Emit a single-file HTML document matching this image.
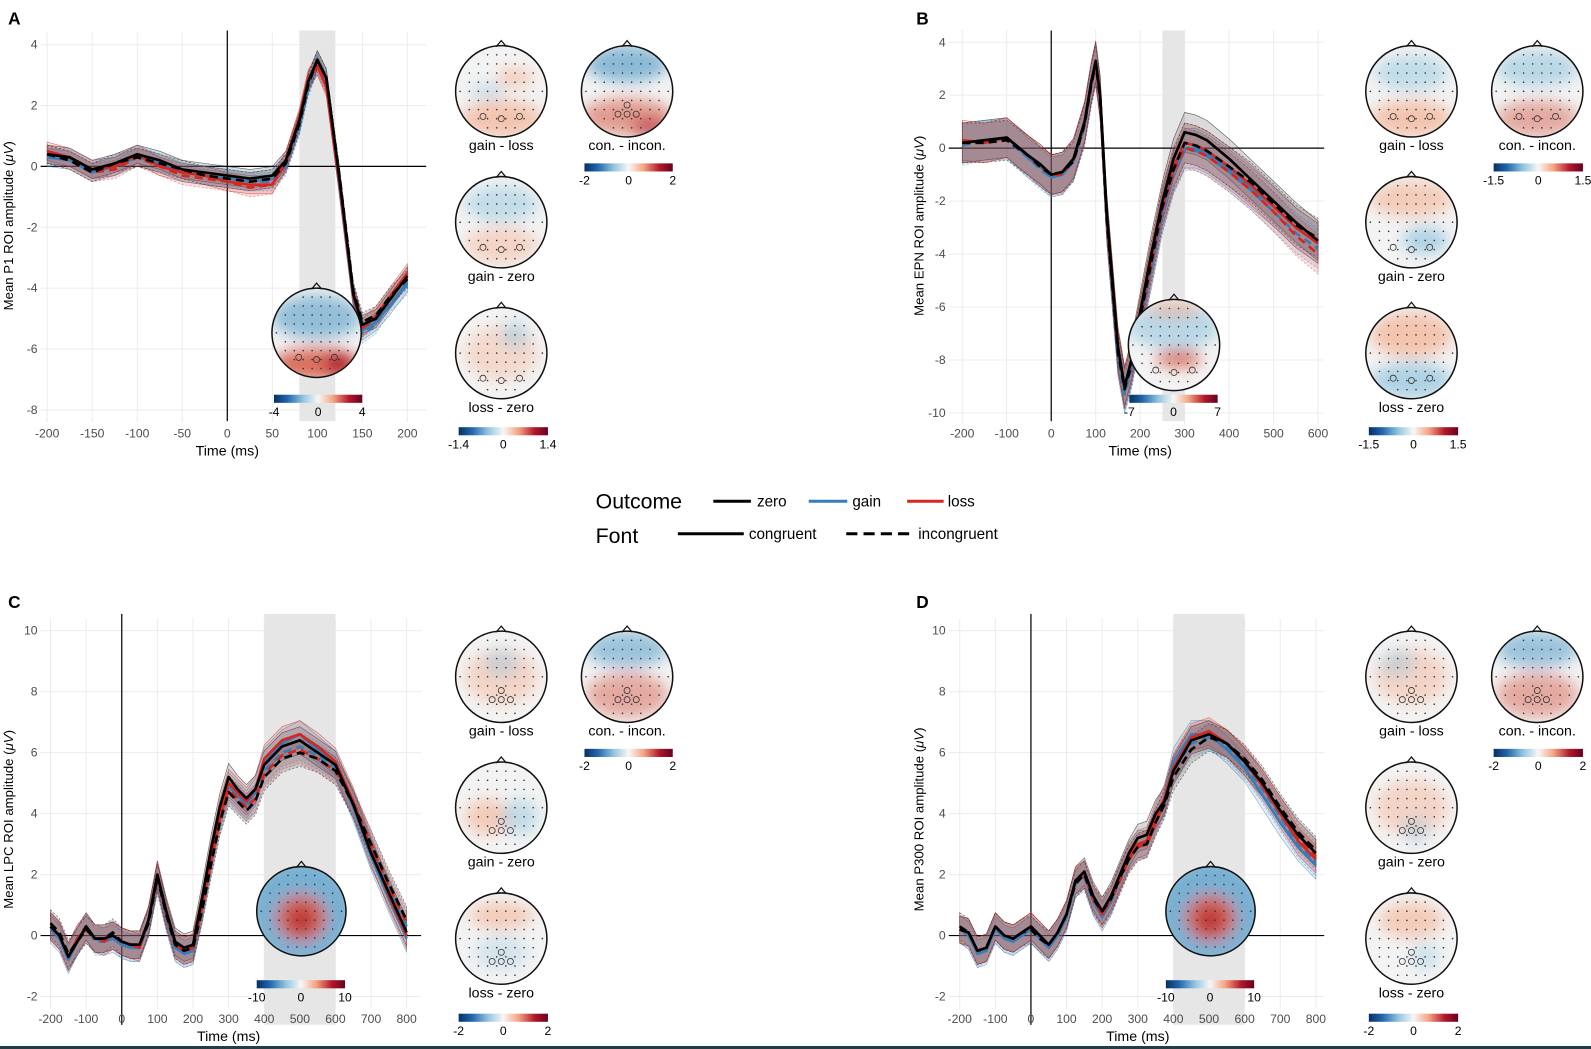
<!DOCTYPE html>
<html><head><meta charset="utf-8">
<style>
html,body{margin:0;padding:0;background:#fff;}
svg{display:block;font-family:"Liberation Sans",sans-serif;}
</style></head>
<body>
<svg id="fig" width="1591" height="1049" viewBox="0 0 1591 1049" xmlns="http://www.w3.org/2000/svg">
<defs>
<linearGradient id="cb" x1="0" x2="1" y1="0" y2="0">
<stop offset="0" stop-color="#053061"/><stop offset="0.15" stop-color="#2166ac"/><stop offset="0.33" stop-color="#92c5de"/><stop offset="0.5" stop-color="#f7f7f7"/><stop offset="0.67" stop-color="#f4a582"/><stop offset="0.85" stop-color="#b2182b"/><stop offset="1" stop-color="#67001f"/>
</linearGradient>
<filter id="blur" x="-50%" y="-50%" width="200%" height="200%"><feGaussianBlur stdDeviation="7"/></filter>
</defs>
<rect x="0" y="1046" width="1591" height="3" fill="#243d43"/>
<g id="root" transform="scale(1.0147)">
<g id="legend">
<text x="587" y="501" font-size="21" fill="#000">Outcome</text>
<line x1="703" y1="494" x2="740" y2="494" stroke="#000" stroke-width="3"/>
<text x="746" y="499" font-size="15">zero</text>
<line x1="797" y1="494" x2="835" y2="494" stroke="#377eb8" stroke-width="3"/>
<text x="840" y="499" font-size="15">gain</text>
<line x1="894" y1="494" x2="930" y2="494" stroke="#d7261e" stroke-width="3"/>
<text x="934" y="499" font-size="15">loss</text>
<text x="587" y="535" font-size="21">Font</text>
<line x1="668" y1="526" x2="733" y2="526" stroke="#000" stroke-width="3"/>
<text x="738" y="531" font-size="15">congruent</text>
<line x1="834" y1="526" x2="900" y2="526" stroke="#000" stroke-width="3" stroke-dasharray="11,6"/>
<text x="905" y="531" font-size="15">incongruent</text>
</g>
</g>
</svg>
<script>
// ---------- Panel A data (P1) ----------
const timesA=[-200,-175,-150,-125,-100,-75,-50,-25,0,25,50,65,80,90,100,110,125,140,150,165,180,200];
const zeroConA=[0.4,0.3,-0.1,0.1,0.4,0.2,-0.1,-0.2,-0.3,-0.4,-0.3,0.2,1.5,2.8,3.5,2.9,-0.5,-4.2,-5.2,-5.0,-4.4,-3.6];
const gainConA=[0.3,0.2,-0.2,0.0,0.3,0.1,-0.2,-0.3,-0.4,-0.5,-0.4,0.1,1.4,2.7,3.4,2.7,-0.8,-4.4,-5.4,-5.1,-4.6,-3.8];
const lossConA=[0.5,0.3,-0.1,0.0,0.4,0.0,-0.2,-0.3,-0.5,-0.6,-0.6,0.2,1.6,2.9,3.3,2.6,-0.7,-4.3,-5.3,-4.9,-4.3,-3.5];
const zeroIncA=[0.4,0.2,-0.2,0.1,0.3,0.1,-0.1,-0.3,-0.4,-0.5,-0.4,0.1,1.4,2.7,3.5,2.9,-0.4,-4.1,-5.1,-4.9,-4.3,-3.7];
const gainIncA=[0.3,0.3,-0.1,0.0,0.4,0.1,-0.2,-0.3,-0.4,-0.5,-0.5,0.0,1.3,2.6,3.4,2.8,-0.6,-4.3,-5.5,-5.2,-4.5,-3.9];
const lossIncA=[0.4,0.2,-0.2,-0.1,0.3,0.0,-0.3,-0.4,-0.5,-0.7,-0.6,0.1,1.5,2.8,3.3,2.7,-0.6,-4.2,-5.3,-5.0,-4.4,-3.6];
const xTicksA=[-200,-150,-100,-50,0,50,100,150,200];
const yTicksA=[4,2,0,-2,-4,-6,-8];
// ---------- Panel B data (EPN) ----------
const timesB=[-200,-150,-100,-50,-25,0,25,50,75,90,100,110,125,150,165,180,200,225,250,275,300,325,350,400,450,500,550,600];
const zeroConB=[0.2,0.3,0.4,-0.3,-0.6,-1.0,-0.9,-0.4,1.0,2.5,3.3,2.0,-2.5,-7.5,-9.0,-8.0,-6.2,-4.0,-2.0,-0.4,0.6,0.5,0.3,-0.4,-1.2,-2.0,-2.8,-3.5];
const gainConB=[0.2,0.3,0.4,-0.4,-0.7,-1.1,-1.0,-0.5,0.9,2.4,3.2,1.8,-2.8,-7.8,-9.2,-8.3,-6.6,-4.5,-2.4,-0.9,0.0,0.0,-0.2,-0.8,-1.5,-2.2,-3.0,-3.6];
const lossConB=[0.3,0.2,0.4,-0.3,-0.6,-1.0,-0.9,-0.4,1.0,2.5,3.2,1.9,-2.6,-7.6,-9.0,-8.1,-6.4,-4.2,-2.2,-0.7,0.2,0.1,-0.1,-0.7,-1.4,-2.2,-3.0,-3.6];
const zeroIncB=[0.2,0.2,0.3,-0.3,-0.7,-1.0,-0.9,-0.5,0.9,2.4,3.2,1.9,-2.7,-7.7,-9.1,-8.2,-6.4,-4.3,-2.2,-0.8,0.2,0.1,-0.1,-0.7,-1.3,-2.1,-2.9,-3.4];
const gainIncB=[0.1,0.3,0.3,-0.4,-0.8,-1.1,-1.0,-0.5,0.8,2.3,3.1,1.8,-2.9,-7.9,-9.3,-8.4,-6.7,-4.6,-2.5,-1.0,-0.1,-0.1,-0.3,-0.9,-1.6,-2.4,-3.2,-3.8];
const lossIncB=[0.2,0.2,0.4,-0.3,-0.7,-1.0,-1.0,-0.4,0.9,2.4,3.1,1.8,-2.8,-7.7,-9.1,-8.2,-6.5,-4.4,-2.3,-0.9,0.0,-0.1,-0.3,-0.9,-1.6,-2.4,-3.3,-4.0];
const xTicksB=[-200,-100,0,100,200,300,400,500,600];
const yTicksB=[4,2,0,-2,-4,-6,-8,-10];
// ---------- Panel C data (LPC) ----------
const timesC=[-200,-175,-150,-125,-100,-75,-50,-25,0,25,50,75,100,125,150,175,200,225,250,275,300,325,350,375,400,450,500,550,600,650,700,750,800];
const zeroConC=[0.3,0.0,-0.7,-0.2,0.3,-0.1,-0.1,0.0,-0.2,-0.3,-0.3,0.5,2.0,0.8,-0.2,-0.4,-0.3,1.2,2.8,4.2,5.2,4.8,4.5,4.8,5.6,6.2,6.4,6.0,5.6,4.3,2.7,1.4,0.1];
const gainConC=[0.2,-0.1,-0.8,-0.2,0.3,-0.1,-0.2,-0.1,-0.3,-0.4,-0.4,0.4,1.9,0.6,-0.4,-0.6,-0.5,0.9,2.5,3.9,4.9,4.6,4.3,4.7,5.7,6.3,6.6,6.1,5.6,4.2,2.6,1.2,-0.1];
const lossConC=[0.3,0.0,-0.7,-0.1,0.2,-0.1,-0.1,0.0,-0.2,-0.3,-0.4,0.5,2.0,0.7,-0.3,-0.5,-0.4,1.0,2.6,4.0,5.0,4.7,4.4,4.8,5.8,6.4,6.6,6.2,5.7,4.4,2.8,1.3,0.0];
const zeroIncC=[0.4,0.1,-0.6,-0.2,0.2,-0.1,-0.1,0.1,-0.2,-0.3,-0.3,0.4,1.9,0.7,-0.3,-0.5,-0.4,0.8,2.3,3.7,4.7,4.4,4.1,4.4,5.2,5.8,6.0,5.8,5.4,4.3,3.0,1.7,0.5];
const gainIncC=[0.3,0.0,-0.7,-0.2,0.3,-0.2,-0.2,0.0,-0.3,-0.4,-0.4,0.4,1.8,0.6,-0.4,-0.6,-0.5,0.8,2.3,3.7,4.7,4.5,4.2,4.5,5.4,6.0,6.2,5.9,5.5,4.3,2.9,1.5,0.3];
const lossIncC=[0.3,0.0,-0.7,-0.1,0.3,-0.1,-0.2,0.0,-0.2,-0.3,-0.3,0.5,1.9,0.7,-0.3,-0.5,-0.4,0.9,2.4,3.8,4.8,4.5,4.2,4.5,5.3,5.9,6.1,5.8,5.4,4.4,3.0,1.6,0.4];
const xTicksC=[-200,-100,0,100,200,300,400,500,600,700,800];
const yTicksC=[10,8,6,4,2,0,-2];
// ---------- Panel D data (P300) ----------
const timesD=[-200,-175,-150,-125,-100,-75,-50,-25,0,25,50,75,100,125,150,175,200,225,250,275,300,325,350,375,400,450,500,550,600,650,700,750,800];
const zeroConD=[0.2,0.1,-0.5,-0.4,0.3,0.0,-0.1,0.1,0.3,0.0,-0.3,0.1,0.7,1.8,2.1,1.3,0.8,1.3,2.0,2.7,3.2,3.3,4.0,4.4,5.4,6.4,6.6,6.3,5.7,5.0,4.1,3.3,2.7];
const gainConD=[0.2,0.0,-0.6,-0.5,0.2,-0.1,-0.2,0.0,0.2,-0.1,-0.4,0.0,0.6,1.7,2.0,1.1,0.6,1.1,1.9,2.6,3.0,3.0,3.8,4.5,5.7,6.6,6.6,6.1,5.5,4.6,3.7,2.9,2.3];
const lossConD=[0.2,0.1,-0.5,-0.4,0.3,0.0,-0.1,0.1,0.3,0.0,-0.3,0.1,0.7,1.8,2.0,1.2,0.7,1.2,1.9,2.6,3.0,3.1,3.9,4.5,5.5,6.5,6.7,6.3,5.7,4.9,4.0,3.1,2.5];
const zeroIncD=[0.3,0.1,-0.5,-0.4,0.3,0.0,-0.1,0.1,0.2,-0.1,-0.3,0.1,0.7,1.7,2.0,1.2,0.8,1.2,1.9,2.5,2.9,3.0,3.7,4.3,5.2,6.1,6.5,6.3,5.8,5.1,4.2,3.4,2.8];
const gainIncD=[0.2,0.0,-0.6,-0.4,0.2,-0.1,-0.2,0.0,0.2,-0.1,-0.4,0.0,0.6,1.7,1.9,1.1,0.7,1.1,1.8,2.5,2.9,3.0,3.7,4.3,5.4,6.3,6.5,6.2,5.6,4.8,3.9,3.0,2.4];
const lossIncD=[0.2,0.1,-0.5,-0.4,0.3,0.0,-0.1,0.1,0.3,0.0,-0.3,0.1,0.7,1.8,2.0,1.2,0.7,1.2,1.8,2.5,2.9,3.0,3.7,4.4,5.5,6.4,6.6,6.3,5.8,5.0,4.1,3.2,2.6];
const xTicksD=[-200,-100,0,100,200,300,400,500,600,700,800];
const yTicksD=[10,8,6,4,2,0,-2];

const NS="http://www.w3.org/2000/svg";
const fig=document.getElementById('root');
function mk(tag,attrs,parent){const e=document.createElementNS(NS,tag);for(const k in attrs)e.setAttribute(k,attrs[k]);(parent||fig).appendChild(e);return e;}

const panels=[
 {id:'a',letter:'A',lx:8,ly:24,times:timesA,series:[zeroConA,gainConA,lossConA,zeroIncA,gainIncA,lossIncA],xt:xTicksA,yt:yTicksA,
  x0:224,xk:0.8875,y0:164,yk:30,left:40,right:420,top:30,bottom:415,win:[80,120],se:0.3,title:'Mean P1 ROI amplitude (',ytx:8,tlab:449},
 {id:'b',letter:'B',lx:903,ly:24,times:timesB,series:[zeroConB,gainConB,lossConB,zeroIncB,gainIncB,lossIncB],xt:xTicksB,yt:yTicksB,
  x0:1036,xk:0.4383,y0:146,yk:26.1,left:935,right:1305,top:30,bottom:415,win:[250,300],se:0.75,title:'Mean EPN ROI amplitude (',ytx:905,tlab:449},
 {id:'c',letter:'C',lx:8,ly:599,times:timesC,series:[zeroConC,gainConC,lossConC,zeroIncC,gainIncC,lossIncC],xt:xTicksC,yt:yTicksC,
  x0:120,xk:0.351,y0:922,yk:30.05,left:40,right:415,top:605,bottom:1010,win:[400,600],se:0.45,title:'Mean LPC ROI amplitude (',ytx:8,tlab:1026},
 {id:'d',letter:'D',lx:903,ly:599,times:timesD,series:[zeroConD,gainConD,lossConD,zeroIncD,gainIncD,lossIncD],xt:xTicksD,yt:yTicksD,
  x0:1016,xk:0.351,y0:922,yk:30.05,left:935,right:1305,top:605,bottom:1010,win:[400,600],se:0.45,title:'Mean P300 ROI amplitude (',ytx:905,tlab:1026}
];
const cols=['#000000','#377eb8','#d7261e','#000000','#377eb8','#d7261e'];
const names=['zero-congruent','gain-congruent','loss-congruent','zero-incongruent','gain-incongruent','loss-incongruent'];

panels.forEach(p=>{
 const g=mk('g',{});
 
 
 const xs=t=>p.x0+t*p.xk, ys=v=>p.y0-v*p.yk;
 const yMin=ys(p.yt[p.yt.length-1])+12, yMax=ys(p.yt[0])-12;
 p.xt.forEach(t=>{const l=mk('line',{x1:xs(t),x2:xs(t),y1:yMax,y2:yMin,stroke:'#ececec','stroke-width':1},g);
  });
 p.yt.forEach(v=>{const l=mk('line',{x1:p.left,x2:p.right,y1:ys(v),y2:ys(v),stroke:'#ececec','stroke-width':1},g);
  });
 const w=mk('rect',{x:xs(p.win[0]),y:p.top,width:xs(p.win[1])-xs(p.win[0]),height:p.bottom-p.top,fill:'#e6e6e6'},g);
 
 const ax0=mk('line',{x1:xs(0),x2:xs(0),y1:p.top,y2:p.bottom,stroke:'#000','stroke-width':1.2},g);
 
 const ay0=mk('line',{x1:p.left,x2:p.right,y1:ys(0),y2:ys(0),stroke:'#000','stroke-width':1.2},g);
 
 const tickY=(p.id==='a'||p.id==='b')?431:1008;
 p.xt.forEach(t=>{const tx=mk('text',{x:xs(t),y:tickY,'font-size':12,fill:'#4d4d4d','text-anchor':'middle'},g);tx.textContent=t;
  });
 p.yt.forEach(v=>{const tx=mk('text',{x:p.left-3,y:ys(v)+4,'font-size':12,fill:'#4d4d4d','text-anchor':'end'},g);tx.textContent=v;
  });
 const xt=mk('text',{x:(xs(p.xt[0])+xs(p.xt[p.xt.length-1]))/2,y:p.tlab,'font-size':14,'text-anchor':'middle'},g);xt.textContent='Time (ms)';
 
 const cy=(p.top+p.bottom)/2;
 const yt=mk('text',{x:0,y:0,'font-size':13,'text-anchor':'middle',transform:`translate(${p.ytx+5},${cy}) rotate(-90)`},g);
 yt.innerHTML=p.title+'<tspan font-style="italic">μV</tspan>)';
 
 const L=mk('text',{x:p.lx,y:p.ly,'font-size':17,'font-weight':'bold'},g);L.textContent=p.letter;
 
 p.series.forEach((s,i)=>{
  let up=p.times.map((t,j)=>xs(t)+','+ys(s[j]+p.se)).join(' ');
  let dn=p.times.map((t,j)=>xs(t)+','+ys(s[j]-p.se)).reverse().join(' ');
  const r=mk('polygon',{points:up+' '+dn,fill:i%3===0?'#555':cols[i],'fill-opacity':i%3===0?0.22:0.14,stroke:cols[i],'stroke-width':0.6,'stroke-opacity':0.6,'stroke-dasharray':i>=3?'2,2':'none'},g);
  
 });
 [1,4,2,5,0,3].forEach(i=>{const s=p.series[i];
  const pts=p.times.map((t,j)=>xs(t)+','+ys(s[j])).join(' ');
  const l=mk('polyline',{points:pts,fill:'none',stroke:cols[i],'stroke-width':2.6,'stroke-linejoin':'round','stroke-dasharray':i>=3?'8,5':'none'},g);
  
 });
});

function colorbar(x,y,w,labels,name){
 const r=mk('rect',{x:x,y:y,width:w,height:8,fill:'url(#cb)'});
 
 labels.forEach((t,i)=>{const tx=mk('text',{x:x+w*i/2,y:y+21,'font-size':12,'text-anchor':'middle'});tx.textContent=t;
  });
}
let clipN=0;
function topo(cx,cy,r,blobs,marks,label,name){
 const g=mk('g',{});
 
 const id='cl'+(clipN++);
 const cp=mk('clipPath',{id:id},g);mk('circle',{cx:cx,cy:cy,r:r},cp);
 mk('circle',{cx:cx,cy:cy,r:r,fill:'#f3f3f3'},g);
 const bg=mk('g',{'clip-path':`url(#${id})`},g);
 const bb=mk('g',{filter:'url(#blur)'},bg);
 blobs.forEach(b=>mk('ellipse',{cx:cx+b[0]*r,cy:cy+b[1]*r,rx:b[2]*r,ry:b[3]*r,fill:b[4],'fill-opacity':b[5]},bb));
 for(let dy=-0.8;dy<=0.81;dy+=0.2)for(let dx=-0.9;dx<=0.91;dx+=0.2){
  if(dx*dx+dy*dy<0.82)mk('circle',{cx:cx+dx*r,cy:cy+dy*r,r:0.8,fill:'#333'},g);}
 marks.forEach(m=>mk('circle',{cx:cx+m[0]*r,cy:cy+m[1]*r,r:3,fill:'none',stroke:'#333','stroke-width':0.8},g));
 mk('circle',{cx:cx,cy:cy,r:r,fill:'none',stroke:'#111','stroke-width':1.5},g);
 mk('path',{d:`M${cx-5},${cy-r+1} L${cx},${cy-r-5} L${cx+5},${cy-r+1}`,fill:'none',stroke:'#111','stroke-width':1.2},g);
 if(label){const t=mk('text',{x:cx,y:cy+r+13,'font-size':14,'text-anchor':'middle'},g);t.textContent=label;
  }
}
const R='#d6604d',LR='#f4a582',B='#4393c3',LB='#92c5de',DR='#b2182b';
const occ=[[-0.4,0.55],[0,0.6],[0.4,0.55]];
const cen=[[0,0.3],[-0.2,0.5],[0,0.5],[0.2,0.5]];
topo(494,90,45,[[0,0.6,0.9,0.4,LR,0.6],[0.3,-0.3,0.4,0.2,LR,0.5],[-0.3,0,0.4,0.2,LB,0.4]],occ,'gain - loss','topo-a-gain-loss');
topo(618,90,45,[[0,-0.6,0.9,0.4,B,0.6],[0,0.55,1,0.4,R,0.6],[0.5,0.8,0.4,0.2,DR,0.6]],cen,'con. - incon.','topo-a-con-incon');
topo(494,219,45,[[0,-0.4,0.8,0.4,LB,0.5],[0,0.5,0.8,0.4,LR,0.4]],occ,'gain - zero','topo-a-gain-zero');
topo(494,348,45,[[0,0,0.8,0.6,LR,0.35],[0.3,-0.4,0.3,0.3,LB,0.5]],occ,'loss - zero','topo-a-loss-zero');
topo(312,328,44,[[0,-0.35,1,0.5,B,0.55],[0,0.7,1,0.35,R,0.9],[0.5,0.7,0.3,0.25,DR,1]],occ,'','topo-a-inset');
colorbar(576,161,87,['-2','0','2'],'colorbar-a-con');
colorbar(452,421,88,['-1.4','0','1.4'],'colorbar-a-diff');
colorbar(270,389,87,['-4','0','4'],'colorbar-a-inset');
topo(1391,90,45,[[0,-0.4,0.8,0.4,LB,0.5],[0,0.6,0.9,0.4,LR,0.6]],occ,'gain - loss','topo-b-gain-loss');
topo(1515,90,45,[[0,-0.5,0.9,0.4,LB,0.6],[0,0.6,0.9,0.4,R,0.5]],occ,'con. - incon.','topo-b-con-incon');
topo(1391,219,45,[[0,-0.5,0.9,0.4,LR,0.5],[0.3,0.4,0.5,0.3,LB,0.7]],occ,'gain - zero','topo-b-gain-zero');
topo(1391,348,45,[[0,-0.4,0.9,0.5,LR,0.6],[0,0.6,0.9,0.4,LB,0.7]],occ,'loss - zero','topo-b-loss-zero');
topo(1157,340,45,[[0,-0.4,1,0.5,LB,0.6],[0.1,0.3,0.5,0.2,R,0.8],[0,-0.8,0.6,0.2,LR,0.5]],occ,'','topo-b-inset');
colorbar(1472,161,88,['-1.5','0','1.5'],'colorbar-b-con');
colorbar(1349,421,88,['-1.5','0','1.5'],'colorbar-b-diff');
colorbar(1113,389,87,['-7','0','7'],'colorbar-b-inset');
topo(494,667,45,[[0,0,0.8,0.6,LR,0.4],[0,-0.3,0.4,0.3,LB,0.4]],cen,'gain - loss','topo-c-gain-loss');
topo(618,667,45,[[0,-0.6,0.9,0.4,B,0.5],[0,0.4,0.9,0.5,R,0.5]],cen,'con. - incon.','topo-c-con-incon');
topo(494,796,45,[[-0.3,0.2,0.5,0.4,LR,0.5],[0.4,0.2,0.4,0.4,LB,0.5]],cen,'gain - zero','topo-c-gain-zero');
topo(494,925,45,[[0,-0.5,0.7,0.3,LR,0.5],[0,0.3,0.6,0.4,LB,0.3]],cen,'loss - zero','topo-c-loss-zero');
topo(297,898,44,[[0,0,1.2,1.2,B,0.7],[0,0.15,0.55,0.5,R,0.95],[0,0.2,0.25,0.25,DR,0.8]],[],'','topo-c-inset');
colorbar(576,738,87,['-2','0','2'],'colorbar-c-con');
colorbar(452,999,88,['-2','0','2'],'colorbar-c-diff');
colorbar(253,966,87,['-10','0','10'],'colorbar-c-inset');
topo(1391,667,45,[[0,0,0.8,0.6,LR,0.4],[-0.3,-0.3,0.4,0.3,LB,0.4]],cen,'gain - loss','topo-d-gain-loss');
topo(1515,667,45,[[0,-0.6,0.9,0.4,B,0.5],[0,0.4,0.9,0.5,R,0.5]],cen,'con. - incon.','topo-d-con-incon');
topo(1391,796,45,[[0,0,0.8,0.6,LR,0.4],[0.1,0.5,0.3,0.3,LB,0.4]],cen,'gain - zero','topo-d-gain-zero');
topo(1391,925,45,[[0,-0.4,0.7,0.4,LR,0.5],[0.3,0.4,0.3,0.3,LB,0.4]],cen,'loss - zero','topo-d-loss-zero');
topo(1193,898,44,[[0,0,1.2,1.2,B,0.7],[0,0.15,0.55,0.5,R,0.95],[0,0.2,0.25,0.25,DR,0.8]],[],'','topo-d-inset');
colorbar(1472,738,88,['-2','0','2'],'colorbar-d-con');
colorbar(1349,999,88,['-2','0','2'],'colorbar-d-diff');
colorbar(1149,966,87,['-10','0','10'],'colorbar-d-inset');
</script>
</body></html>
